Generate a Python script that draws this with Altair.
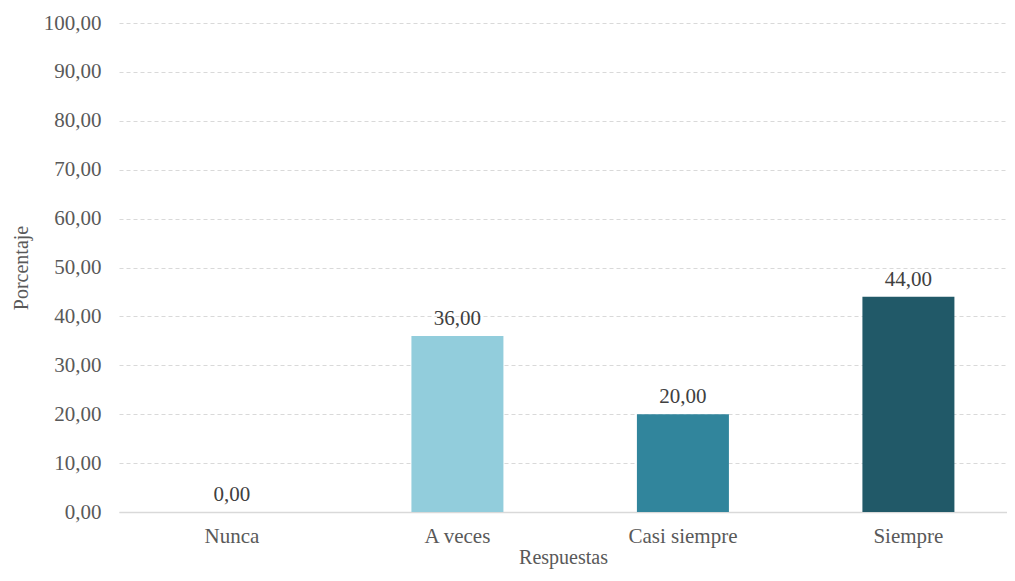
import altair as alt
import pandas as pd

categorias = ["Nunca", "A veces", "Casi siempre", "Siempre"]
porcentajes = [0.00, 36.00, 20.00, 44.00]
colores = ["#92CDDC", "#92CDDC", "#31859C", "#215968"]
y_ticks = [0, 10, 20, 30, 40, 50, 60, 70, 80, 90, 100]

df = pd.DataFrame({"Respuestas": categorias, "Porcentaje": porcentajes, "color": colores})

FONT = "Liberation Serif"
TXT = "#595959"

x_enc = alt.X(
    "Respuestas:N",
    sort=categorias,
    scale=alt.Scale(paddingInner=0.592, paddingOuter=0.265, align=0.56),
    axis=alt.Axis(
        title="Respuestas", labelAngle=0, ticks=False, domainColor="#d9d9d9",
        domainWidth=1.5, labelPadding=13, titlePadding=1,
        labelFont=FONT, titleFont=FONT, labelFontSize=21, titleFontSize=20,
        labelColor=TXT, titleColor=TXT, titleFontWeight="normal", grid=False,
    ),
)
y_enc = alt.Y(
    "Porcentaje:Q",
    scale=alt.Scale(domain=[0, 100], nice=False),
    axis=alt.Axis(
        title="Porcentaje", values=y_ticks, ticks=False, domain=False,
        labelExpr="replace(format(datum.value, '.2f'), '.', ',')",
        labelPadding=18, titlePadding=12,
        gridColor="#d9d9d9", gridDash=[4, 3], gridWidth=1,
        labelFont=FONT, titleFont=FONT, labelFontSize=21, titleFontSize=20,
        labelColor=TXT, titleColor=TXT, titleFontWeight="normal",
    ),
)

base = alt.Chart(df)
bars = base.mark_bar().encode(
    x=x_enc, y=y_enc, color=alt.Color("color:N", scale=None)
)
labels = base.transform_calculate(
    lab="replace(format(datum.Porcentaje, '.2f'), '.', ',')"
).mark_text(baseline="bottom", dy=-7, font=FONT, fontSize=21, color="#404040").encode(
    x=alt.X("Respuestas:N", sort=categorias), y="Porcentaje:Q", text="lab:N"
)

chart = (bars + labels).properties(
    width=888, height=489,
    background="white",
    autosize=alt.AutoSizeParams(type="none"),
    padding={"left": 111, "top": 15, "right": 0, "bottom": 61},
).configure_view(stroke=None)

chart.save("out.html", embed_options={"renderer": "svg", "actions": False})
